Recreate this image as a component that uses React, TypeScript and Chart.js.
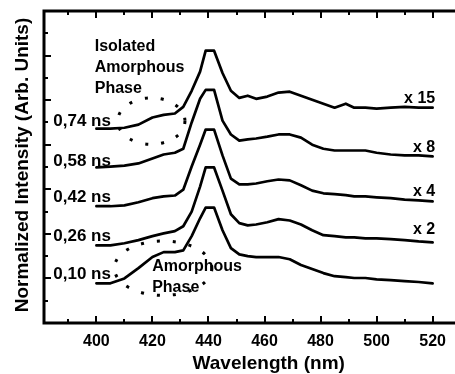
import { useEffect, useRef } from "react";
import { Chart, registerables } from "chart.js";

Chart.register(...registerables);

// ---- data ----
const wavelengths = [400, 405, 410, 415, 420, 424, 428, 431, 434, 437, 439, 442, 445, 448, 451, 454, 457, 461, 465, 469, 473, 477, 481, 485, 489, 492, 496, 500, 505, 510, 515, 520];

const ns074 = [4.36, 4.36, 4.38, 4.45, 4.61, 4.67, 4.70, 4.85, 5.21, 5.64, 6.11, 6.11, 5.61, 5.21, 5.05, 5.10, 5.03, 5.08, 5.17, 5.19, 5.10, 5.01, 4.92, 4.83, 4.92, 4.83, 4.83, 4.81, 4.83, 4.85, 4.83, 4.83];
const ns058 = [3.49, 3.51, 3.53, 3.58, 3.69, 3.78, 3.82, 3.91, 4.50, 5.03, 5.23, 5.23, 4.54, 4.23, 4.09, 4.12, 4.14, 4.18, 4.23, 4.23, 4.16, 4.00, 3.91, 3.87, 3.87, 3.87, 3.87, 3.82, 3.78, 3.76, 3.76, 3.74];
const ns042 = [2.62, 2.62, 2.64, 2.71, 2.80, 2.84, 2.86, 2.99, 3.51, 4.00, 4.34, 4.34, 3.76, 3.24, 3.11, 3.11, 3.13, 3.18, 3.22, 3.20, 3.09, 2.97, 2.91, 2.89, 2.87, 2.84, 2.84, 2.82, 2.80, 2.77, 2.75, 2.73];
const ns026 = [1.74, 1.74, 1.79, 1.86, 1.95, 2.01, 2.06, 2.17, 2.50, 3.06, 3.49, 3.49, 2.97, 2.44, 2.24, 2.19, 2.21, 2.26, 2.33, 2.30, 2.21, 2.08, 1.97, 1.95, 1.92, 1.92, 1.90, 1.90, 1.88, 1.86, 1.83, 1.81];
const ns010 = [0.89, 0.89, 1.00, 1.23, 1.48, 1.59, 1.59, 1.63, 1.95, 2.35, 2.59, 2.59, 2.08, 1.68, 1.54, 1.50, 1.48, 1.48, 1.48, 1.43, 1.30, 1.21, 1.12, 1.05, 1.03, 1.01, 1.01, 0.98, 0.96, 0.94, 0.92, 0.89];

const seriesValues = [ns074, ns058, ns042, ns026, ns010];
const delayLabels = ["0,74 ns", "0,58 ns", "0,42 ns", "0,26 ns", "0,10 ns"];
const delayLabelY = [4.53, 3.63, 2.82, 1.95, 1.10];
const factorLabels = ["x 15", "x 8", "x 4", "x 2"];
const factorLabelY = [5.03, 3.94, 2.94, 2.09];
const xTickValues = [400, 420, 440, 460, 480, 500, 520];

const xTitle = "Wavelength (nm)";
const yTitle = "Normalized Intensity (Arb. Units)";

// annotation placement (data coordinates)
const X_MIN = 381.3;
const X_MAX = 526.9;
const Y_MIN = 0;
const Y_MAX = 7;
const delayLabelX = 384.6;
const factorLabelX = 520.9;
const phaseNotes = [
  { lines: ["Isolated", "Amorphous", "Phase"], x: 399.4, y: 6.1 },
  { lines: ["Amorphous", "Phase"], x: 419.9, y: 1.17 },
];
const ellipses = [
  { cx: 419.6, cy: 4.53, rx: 12.0, ry: 0.52 },
  { cx: 423.8, cy: 1.23, rx: 17.4, ry: 0.61 },
];
const xTitleCenter = 461.5;

const FONT = '"Liberation Sans", Arial, Helvetica, sans-serif';

const decorPlugin = {
  id: "decor",
  afterDraw(chart: any) {
    const { ctx, chartArea: ca, scales } = chart;
    const xs = scales.x;
    const ys = scales.y;
    ctx.save();
    ctx.strokeStyle = "#000";
    ctx.fillStyle = "#000";

    // frame (left, top, bottom; right side is outside the picture)
    ctx.lineWidth = 3;
    ctx.lineCap = "butt";
    ctx.beginPath();
    ctx.moveTo(ca.right + 5, ca.top);
    ctx.lineTo(ca.left, ca.top);
    ctx.lineTo(ca.left, ca.bottom);
    ctx.lineTo(ca.right + 5, ca.bottom);
    ctx.stroke();

    // ticks (inside)
    ctx.lineWidth = 2;
    ctx.beginPath();
    for (let v = 390; v <= 530; v += 10) {
      const px = Math.round(xs.getPixelForValue(v)) + 0.0;
      if (px < ca.left + 3 || px > ca.right) continue;
      const len = v % 20 === 0 ? 7 : 4;
      ctx.moveTo(px, ca.bottom);
      ctx.lineTo(px, ca.bottom - len);
      ctx.moveTo(px, ca.top);
      ctx.lineTo(px, ca.top + len);
    }
    for (let v = Y_MIN + 0.5; v < Y_MAX; v += 0.5) {
      const py = Math.round(ys.getPixelForValue(v));
      const len = Number.isInteger(v) ? 7 : 4;
      ctx.moveTo(ca.left, py);
      ctx.lineTo(ca.left + len, py);
    }
    ctx.stroke();

    // dotted ellipses
    ctx.lineWidth = 3;
    ctx.setLineDash([3, 13]);
    const pxPerX = Math.abs(xs.getPixelForValue(1) - xs.getPixelForValue(0));
    const pxPerY = Math.abs(ys.getPixelForValue(1) - ys.getPixelForValue(0));
    for (const e of ellipses) {
      ctx.beginPath();
      ctx.ellipse(
        xs.getPixelForValue(e.cx),
        ys.getPixelForValue(e.cy),
        e.rx * pxPerX,
        e.ry * pxPerY,
        0,
        0,
        Math.PI * 2
      );
      ctx.stroke();
    }
    ctx.setLineDash([]);

    // labels
    ctx.font = `bold 17px ${FONT}`;
    ctx.textBaseline = "middle";
    ctx.textAlign = "left";
    delayLabels.forEach((t, i) => {
      ctx.fillText(t, xs.getPixelForValue(delayLabelX), ys.getPixelForValue(delayLabelY[i]));
    });
    ctx.font = `bold 16px ${FONT}`;
    ctx.textAlign = "right";
    factorLabels.forEach((t, i) => {
      ctx.fillText(t, xs.getPixelForValue(factorLabelX), ys.getPixelForValue(factorLabelY[i]));
    });
    ctx.textAlign = "left";
    ctx.textBaseline = "alphabetic";
    for (const n of phaseNotes) {
      const x0 = xs.getPixelForValue(n.x);
      const y0 = ys.getPixelForValue(n.y);
      n.lines.forEach((l, k) => ctx.fillText(l, x0, y0 + k * 20.7));
    }

    // axis titles
    ctx.font = `bold 19px ${FONT}`;
    ctx.textAlign = "center";
    ctx.textBaseline = "alphabetic";
    ctx.fillText(xTitle, xs.getPixelForValue(xTitleCenter), 369);
    ctx.save();
    ctx.translate(28, (ca.top + ca.bottom) / 2 - 2);
    ctx.rotate(-Math.PI / 2);
    ctx.fillText(yTitle, 0, 0);
    ctx.restore();

    ctx.restore();
  },
};

export default function App() {
  const canvasRef = useRef<HTMLCanvasElement | null>(null);

  useEffect(() => {
    const canvas = canvasRef.current;
    if (!canvas) return;
    const datasets = seriesValues.map((vals, i) => ({
      label: delayLabels[i],
      data: wavelengths.map((w, j) => ({ x: w, y: vals[j] })),
      borderColor: "#000",
      borderWidth: 2.7,
      pointRadius: 0,
      tension: 0,
      fill: false,
      borderJoinStyle: "round" as const,
      borderCapStyle: "round" as const,
    }));
    const chart = new Chart(canvas, {
      type: "line",
      data: { datasets },
      plugins: [decorPlugin],
      options: {
        responsive: false,
        animation: false,
        devicePixelRatio: 1,
        layout: { padding: { top: 11, left: 0, right: 0, bottom: 0 } },
        plugins: {
          legend: { display: false },
          tooltip: { enabled: false },
          title: { display: false },
        },
        scales: {
          x: {
            type: "linear",
            min: X_MIN,
            max: X_MAX,
            grid: { display: false, drawTicks: false },
            border: { display: false },
            afterBuildTicks: (axis: any) => {
              axis.ticks = xTickValues.map((v) => ({ value: v }));
            },
            afterFit: (axis: any) => {
              axis.height = 51;
            },
            ticks: {
              autoSkip: false,
              maxRotation: 0,
              padding: 9,
              color: "#000",
              font: { family: FONT, size: 16, weight: "bold" },
              callback: (v: any) => String(v),
            },
          },
          y: {
            type: "linear",
            min: Y_MIN,
            max: Y_MAX,
            grid: { display: false, drawTicks: false },
            border: { display: false },
            ticks: { display: false },
            afterFit: (axis: any) => {
              axis.width = 44;
            },
          },
        },
      },
    });
    return () => chart.destroy();
  }, []);

  return (
    <div style={{ position: "fixed", left: 0, top: 0, width: 455, height: 374, background: "#fff" }}>
      <canvas ref={canvasRef} width={455} height={374} style={{ display: "block" }} />
    </div>
  );
}
